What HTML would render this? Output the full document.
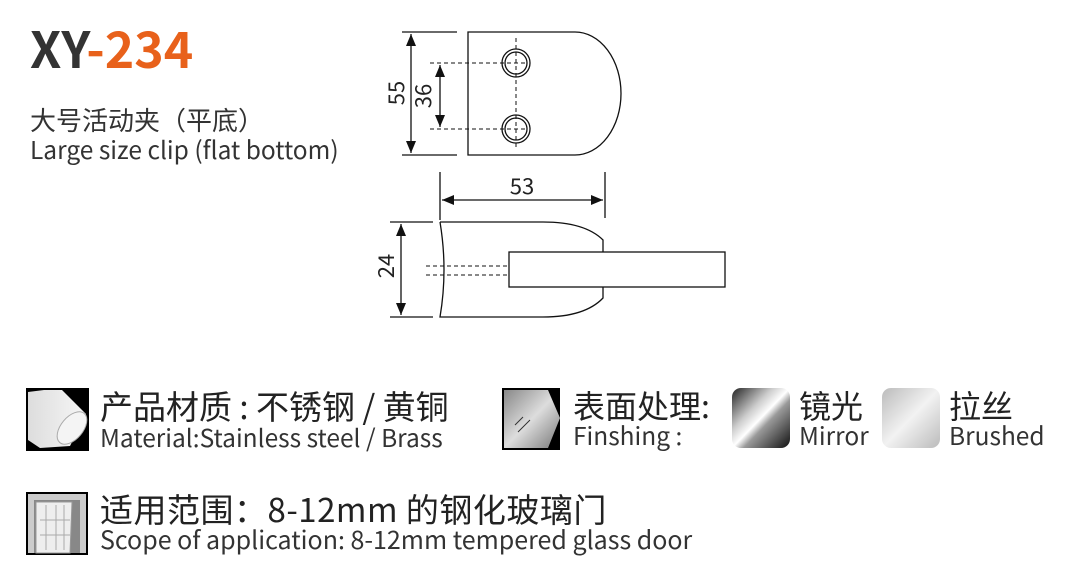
<!DOCTYPE html>
<html><head><meta charset="utf-8"><style>
body{margin:0;width:1066px;height:577px;background:#fff;position:relative;overflow:hidden;font-family:"Noto Sans CJK SC","Liberation Sans",sans-serif;color:#333}
.t{position:absolute;white-space:nowrap;line-height:1}
</style></head><body>
<div class="t" style="left:30px;top:22px;font-size:50px;font-weight:bold;color:#333">XY<span style="color:#e8611b">-234</span></div>
<div class="t" style="left:30px;top:107px;font-size:26px;color:#333">大号活动夹（平底）</div>
<div class="t" style="left:30px;top:138px;font-size:24.5px;color:#333">Large size clip (flat bottom)</div>

<svg style="position:absolute;left:0;top:0" width="1066" height="577">
<defs>
<marker id="a" markerWidth="12" markerHeight="10" refX="12" refY="5" orient="auto-start-reverse" markerUnits="userSpaceOnUse"><path d="M0,0L12,5L0,10z" fill="#111"/></marker>
<linearGradient id="m" x1="0" y1="0" x2="1" y2="1"><stop offset="0" stop-color="#222"/><stop offset=".35" stop-color="#ccc"/><stop offset=".5" stop-color="#fff"/><stop offset=".6" stop-color="#999"/><stop offset="1" stop-color="#111"/></linearGradient>
<linearGradient id="b" x1="0" y1="0" x2="1" y2="1"><stop offset="0" stop-color="#bbb"/><stop offset=".5" stop-color="#f2f2f2"/><stop offset="1" stop-color="#bbb"/></linearGradient>
<linearGradient id="s" x1="0" y1="0" x2="1" y2="1"><stop offset="0" stop-color="#888"/><stop offset=".5" stop-color="#ddd"/><stop offset="1" stop-color="#777"/></linearGradient>
<linearGradient id="c" x1="0" y1="0" x2="1" y2="0"><stop offset="0" stop-color="#ddd"/><stop offset="1" stop-color="#f6f6f6"/></linearGradient>
</defs>
<g stroke="#111" stroke-width="1.3" fill="none">
<path d="M468,32H575A46,61.5 0 0 1 575,155H468Z"/>
<circle cx="516" cy="63" r="14"/><circle cx="516" cy="63" r="11"/>
<circle cx="516" cy="129" r="14"/><circle cx="516" cy="129" r="11"/>
<g stroke-dasharray="4,3" stroke-width="1">
<path d="M516,38V148M430,63H526M430,129H526"/>
<path d="M426,266H509M426,275H509"/>
</g>
<path d="M402,32H457M402,155H457"/>
<path d="M411,34V153" marker-start="url(#a)" marker-end="url(#a)"/>
<path d="M440,65V127" marker-start="url(#a)" marker-end="url(#a)"/>
<path d="M440,172V220M605,172V218"/>
<path d="M442,200H603" marker-start="url(#a)" marker-end="url(#a)"/>
<path d="M390,222H433M390,317H433"/>
<path d="M401,224V315" marker-start="url(#a)" marker-end="url(#a)"/>
<path d="M440,222Q448,270 440,317H543Q585,317 603,298V287M603,252V240Q585,222 543,222H440"/>
<rect x="509" y="252" width="216" height="35"/>
</g>
<g font-family="Noto Sans CJK SC, Liberation Sans" font-size="22" fill="#222">
<text x="398" y="93" transform="rotate(-90 398 93)" text-anchor="middle" dominant-baseline="middle">55</text>
<text x="425" y="96" transform="rotate(-90 425 96)" text-anchor="middle" dominant-baseline="middle">36</text>
<text x="388" y="266" transform="rotate(-90 388 266)" text-anchor="middle" dominant-baseline="middle">24</text>
<text x="522" y="194" text-anchor="middle">53</text>
</g>
<rect x="26" y="388" width="63" height="63" fill="#000"/>
<path d="M28,392L44,390H62L86,414L70,446L40,448L28,440Z" fill="url(#c)"/>
<ellipse cx="72" cy="428" rx="11" ry="19" transform="rotate(40 72 428)" fill="#f4f4f4" stroke="#aaa"/>
<rect x="502" y="388" width="58" height="62" fill="#000"/>
<path d="M504,390H548L560,418L548,448H504Z" fill="url(#s)"/>
<path d="M515,425l8,-8M518,432l12,-12" stroke="#333" stroke-width="1"/>
<rect x="732" y="388" width="58" height="60" rx="9" fill="url(#m)"/>
<rect x="882" y="388" width="58" height="60" rx="9" fill="url(#b)"/>
<rect x="26" y="492" width="62" height="63" fill="#000"/>
<rect x="28" y="494" width="58" height="59" fill="#ccc"/>
<path d="M34,500H80V553H34Z" fill="#888"/>
<path d="M36,502H72L70,553H36Z" fill="#eee" stroke="#999"/>
<g stroke="#aaa"><path d="M46,505V550M56,505V550M64,505V550M40,520H70M40,535H70"/></g>
</svg>

<div class="t" style="left:100px;top:389px;font-size:33px;color:#222">产品材质 : 不锈钢 / 黄铜</div>
<div class="t" style="left:100px;top:426px;font-size:24.5px;color:#333">Material:Stainless steel / Brass</div>
<div class="t" style="left:573px;top:389px;font-size:32px;color:#222">表面处理:</div>
<div class="t" style="left:573px;top:424px;font-size:24.5px;color:#333">Finshing :</div>
<div class="t" style="left:799px;top:389px;font-size:32px;color:#222">镜光</div>
<div class="t" style="left:799px;top:424px;font-size:24.5px;color:#333">Mirror</div>
<div class="t" style="left:949px;top:389px;font-size:32px;color:#222">拉丝</div>
<div class="t" style="left:949px;top:424px;font-size:24.5px;color:#333">Brushed</div>
<div class="t" style="left:100px;top:492px;font-size:33px;color:#222;letter-spacing:0.5px">适用范围：8-12mm 的钢化玻璃门</div>
<div class="t" style="left:100px;top:527px;font-size:25px;color:#333">Scope of application: 8-12mm tempered glass door</div>
</body></html>
